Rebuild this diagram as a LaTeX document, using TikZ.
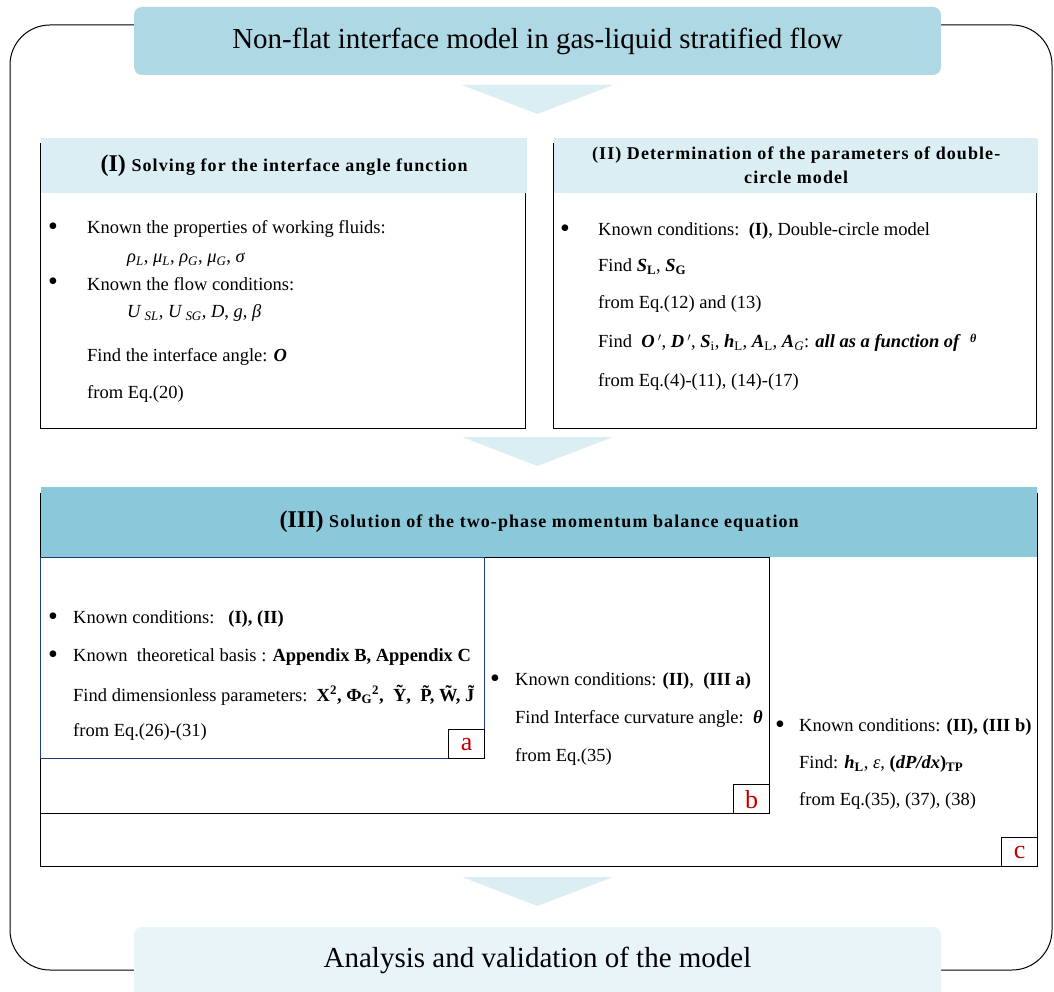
\documentclass[tikz,border=0pt]{standalone}
\usepackage{fontspec}
\setmainfont{Liberation Serif}
\definecolor{nfTitle}{HTML}{ADD8E4}
\definecolor{nfPale}{HTML}{DAEEF3}
\definecolor{nfDeep}{HTML}{8AC8DA}
\definecolor{nfMist}{HTML}{E8F4F8}
\definecolor{nfNavy}{HTML}{1F3A70}
\definecolor{nfRed}{HTML}{C00000}
\newcommand{\isub}[1]{\textsubscript{\itshape #1}}
\newcommand{\bsub}[1]{\textsubscript{\bfseries #1}}
\newcommand{\bi}[1]{\textbf{\textit{#1}}}
\newcommand{\stage}[1]{{\fontsize{24}{24}\selectfont\addfontfeatures{LetterSpace=0}#1}}
\tikzset{
  nf banner/.style={rounded corners=8pt, inner sep=0pt, font=\fontsize{29}{33}\selectfont},
  nf head/.style={fill=nfPale, inner sep=0pt, align=center,
    font=\fontsize{18}{24}\selectfont\bfseries\addfontfeatures{LetterSpace=6}},
  nf frame/.style={draw=black, line width=1.2pt, inner sep=0pt, anchor=north west},
  nf line/.style={anchor=west, inner sep=0pt, font=\fontsize{18.5}{22}\selectfont},
  nf dot/.style={inner sep=0pt, font=\fontsize{28}{28}\selectfont},
  nf tag/.style={draw=black, line width=1.2pt, fill=white, minimum width=36pt, minimum height=29pt,
    inner sep=0pt, text=nfRed, font=\fontsize{26}{26}\selectfont},
}

\begin{document}
\begin{tikzpicture}[x=1pt, y=-1pt]
  \useasboundingbox (0,0) rectangle (1054,992);

  % outer rounded frame
  \draw[line width=1pt, rounded corners=40pt] (10,25) rectangle (1052,970);

  % pointers between the stages
  \foreach \py in {85,437,877} {
    \fill[nfPale] (462,\py) -- (613,\py) -- (537.5,\py+29) -- cycle;
  }

  % title and closing banners
  \node[nf banner, fill=nfTitle, minimum width=807pt, minimum height=68pt] (title) at (537.5,41)
    {Non-flat interface model in gas-liquid stratified flow};
  \node[nf banner, fill=nfMist, minimum width=807pt, minimum height=90pt] (closing) at (537.5,972) {};
  \node[inner sep=0pt, font=\fontsize{29}{33}\selectfont] (closingText) at (537.5,960)
    {Analysis and validation of the model};

  % (I) interface angle
  \node[nf frame, minimum width=485pt, minimum height=285pt] (boxI) at (40,143) {};
  \node[nf head, minimum width=486pt, minimum height=55pt, anchor=north west] (headI) at (41,138)
    {\stage{(I)} Solving for the interface angle function};
  \node[nf dot] (dotIa) at (53,229) {•};
  \node[nf line] (fluidLine) at (87,229) {Known the properties of working fluids:};
  \node[nf line] (fluidVars) at (127,260)
    {\textit{ρ}\isub{L}, \textit{μ}\isub{L}, \textit{ρ}\isub{G}, \textit{μ}\isub{G}, \textit{σ}};
  \node[nf dot] (dotIb) at (53,284) {•};
  \node[nf line] (flowLine) at (87,284) {Known the flow conditions:};
  \node[nf line] (flowVars) at (127,313)
    {\textit{U}\,\isub{SL}, \textit{U}\,\isub{SG}, \textit{D}, \textit{g}, \textit{β}};
  \node[nf line] (angleLine) at (87,357) {Find the interface angle: \bi{O}};
  \node[nf line] (angleEq) at (87,394) {from Eq.(20)};

  % (II) double-circle model
  \node[nf frame, minimum width=483pt, minimum height=285pt] (boxII) at (553,143) {};
  \node[nf head, minimum width=484pt, minimum height=55pt, anchor=north west] (headII) at (554,138)
    {(II) Determination of the parameters of double-\\circle model};
  \node[nf dot] (dotII) at (565,231) {•};
  \node[nf line] (circleLine) at (598,231) {Known conditions:\ \ \textbf{(I)}, Double-circle model};
  \node[nf line] (wetLine) at (598,267) {Find \bi{S}\bsub{L}, \bi{S}\bsub{G}};
  \node[nf line] (wetEq) at (598,304) {from Eq.(12) and (13)};
  \node[nf line] (geomLine) at (598,343)
    {Find\ \ \bi{O}\,$'$, \bi{D}\,$'$, \bi{S}\textsubscript{i}, \bi{h}\textsubscript{L}, \bi{A}\textsubscript{L},
     \bi{A}\isub{G}: \bi{all as a function of}\ \ {\fontsize{12}{12}\selectfont\raisebox{5pt}{\bi{θ}}}};
  \node[nf line] (geomEq) at (598,382) {from Eq.(4)-(11), (14)-(17)};

  % (III) momentum balance
  \node[nf frame, minimum width=997pt, minimum height=373pt] (boxC) at (40,493) {};
  \node[nf frame, minimum width=729pt, minimum height=256pt] (boxB) at (40,557) {};
  \node[nf frame, draw=nfNavy, minimum width=444pt, minimum height=201pt] (boxA) at (40,557) {};
  \node[nf head, fill=nfDeep, minimum width=996pt, minimum height=70pt, anchor=north west] (headIII) at (41,487)
    {\stage{(III)} Solution of the two-phase momentum balance equation};

  \node[nf dot] (dotAa) at (53,619) {•};
  \node[nf line] (knownA) at (73,619) {Known conditions:\ \ \ \textbf{(I), (II)}};
  \node[nf dot] (dotAb) at (53,657) {•};
  \node[nf line] (basisA) at (73,657) {Known\ \ theoretical basis : \textbf{Appendix B, Appendix C}};
  \node[nf line] (paramA) at (73,695)
    {Find dimensionless parameters:\ \ \textbf{X\textsuperscript{2}, Φ\textsubscript{G}\textsuperscript{2},\ \ \~Y,\ \ \~P, \~W, \~J}};
  \node[nf line] (eqA) at (73,732) {from Eq.(26)-(31)};

  \node[nf dot] (dotB) at (495,681) {•};
  \node[nf line] (knownB) at (515,681) {Known conditions: \textbf{(II)},\ \ \textbf{(III a)}};
  \node[nf line] (curveB) at (515,719) {Find Interface curvature angle:\ \ \bi{θ}};
  \node[nf line] (eqB) at (515,757) {from Eq.(35)};

  \node[nf dot] (dotC) at (780,727) {•};
  \node[nf line] (knownC) at (799,727) {Known conditions: \textbf{(II), (III b)}};
  \node[nf line] (findC) at (799,764)
    {Find: \bi{h}\bsub{L}, \textit{ε}, \textbf{(\textit{dP/dx})}\bsub{TP}};
  \node[nf line] (eqC) at (799,801) {from Eq.(35), (37), (38)};

  % stage tags
  \node[nf tag, anchor=south east] (tagA) at (boxA.south east) {a};
  \node[nf tag, anchor=south east] (tagB) at (boxB.south east) {b};
  \node[nf tag, anchor=south east] (tagC) at (boxC.south east) {c};
\end{tikzpicture}
\end{document}
